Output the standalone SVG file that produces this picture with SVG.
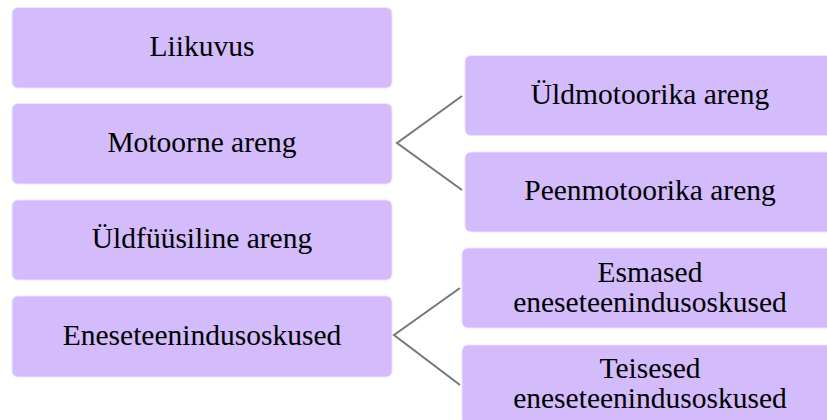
<svg xmlns="http://www.w3.org/2000/svg" width="827" height="420" viewBox="0 0 827 420">
<style>
.box{fill:#d3bbfc;stroke:#ece3fc;stroke-width:1}
text{font-family:'Liberation Serif','Times New Roman','DejaVu Serif',serif;font-size:29.5px;fill:#000;text-anchor:middle}
.c{fill:none;stroke:#777;stroke-width:2}
</style>
<rect width="827" height="420" fill="#fff"/>
<g id="liikuvus"><rect class="box" x="12" y="7.5" width="380" height="80.5" rx="6"/><text x="202" y="56">Liikuvus</text></g>
<g id="motoorne"><rect class="box" x="12" y="103.5" width="380" height="80.5" rx="6"/><text x="202" y="152">Motoorne areng</text></g>
<g id="uldfuusiline"><rect class="box" x="12" y="200" width="380" height="80" rx="6"/><text x="202" y="248">Üldfüüsiline areng</text></g>
<g id="eneseteenindus"><rect class="box" x="12" y="296" width="380" height="81" rx="6"/><text x="202" y="345">Eneseteenindusoskused</text></g>
<g id="uldmotoorika"><rect class="box" x="465" y="55.5" width="372" height="80" rx="6"/><text x="650" y="104">Üldmotoorika areng</text></g>
<g id="peenmotoorika"><rect class="box" x="465" y="152" width="372" height="80" rx="6"/><text x="650" y="200">Peenmotoorika areng</text></g>
<g id="esmased"><rect class="box" x="462" y="248" width="375" height="80" rx="6"/><text x="650" y="282">Esmased</text><text x="650" y="312">eneseteenindusoskused</text></g>
<g id="teisesed"><rect class="box" x="462" y="345" width="375" height="80" rx="6"/><text x="650" y="378">Teisesed</text><text x="650" y="408">eneseteenindusoskused</text></g>
<g id="connectors">
<polyline class="c" points="462,96 397,143 462,190"/>
<polyline class="c" points="460,288 394,335 460,385"/>
</g>
</svg>
